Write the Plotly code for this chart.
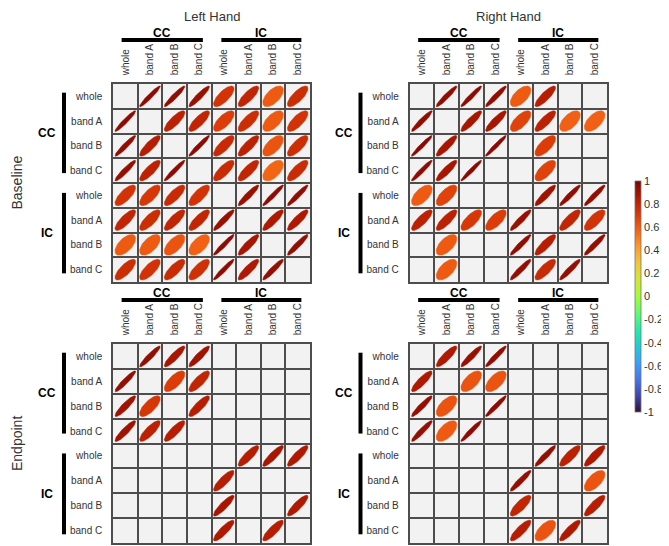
import numpy as np
import plotly.graph_objects as go
from plotly.colors import sample_colorscale

W, H = 669, 546
OFF = 8  # page body margin of the html page

# ---------------- data ----------------
measures = ["whole", "band A", "band B", "band C"]
groups = ["CC", "IC"]
tick_labels = measures * 2
hands = ["Left Hand", "Right Hand"]
phases = ["Baseline", "Endpoint"]
N = None

left_baseline = [
    [N,   .95, .94, .92, .74, .80, .60, .76],
    [.95, N,   .82, .80, .70, .76, .60, .74],
    [.94, .84, N,   .95, .78, .82, .62, .76],
    [.93, .82, .95, N,   .77, .80, .57, .77],
    [.74, .72, .78, .74, N,   .92, .95, .94],
    [.80, .76, .80, .80, .92, N,   .86, .86],
    [.60, .60, .62, .58, .95, .88, N,   .93],
    [.76, .74, .77, .75, .95, .86, .93, N],
]
right_baseline = [
    [N,   .94, .95, .94, .60, .84, N,   N],
    [.94, N,   .88, .88, .68, .82, .58, .58],
    [.96, .88, N,   .96, N,   .70, N,   N],
    [.95, .88, .96, N,   N,   .68, N,   N],
    [.60, .68, N,   N,   N,   .90, .94, .94],
    [.82, .82, .72, .70, .92, N,   .80, .74],
    [N,   .60, N,   N,   .94, .84, N,   .93],
    [N,   .60, N,   N,   .93, .78, .93, N],
]
left_endpoint = [
    [N,   .93, .88, .90, N,   N,   N,   N],
    [.93, N,   .70, .80, N,   N,   N,   N],
    [.90, .72, N,   .84, N,   N,   N,   N],
    [.90, .82, .84, N,   N,   N,   N,   N],
    [N,   N,   N,   N,   N,   .84, .88, .86],
    [N,   N,   N,   N,   .84, N,   N,   N],
    [N,   N,   N,   N,   .88, N,   N,   .86],
    [N,   N,   N,   N,   .86, N,   .84, N],
]
right_endpoint = [
    [N,   .86, .92, .94, N,   N,   N,   N],
    [.86, N,   .62, .62, N,   N,   N,   N],
    [.93, .62, N,   .95, N,   N,   N,   N],
    [.93, .60, .95, N,   N,   N,   N,   N],
    [N,   N,   N,   N,   N,   .93, .82, .86],
    [N,   N,   N,   N,   .93, N,   N,   .62],
    [N,   N,   N,   N,   .80, N,   N,   .84],
    [N,   N,   N,   N,   .84, .62, .86, N],
]

panels = [left_baseline, right_baseline, left_endpoint, right_endpoint]

# ---------------- layout geometry (screen pixels) ----------------
grid_left = [113, 409.5]
grid_right = [310, 607]
grid_top = [84, 344]
grid_bottom = [282, 543]

def px_x(p):
    return (p - OFF) / W

def px_y(p):
    return 1 - (p - OFF) / H

fig = go.Figure()
S = 0.42  # ellipse half-extent in cell units
t = np.linspace(0, 2 * np.pi, 80)
FONT = "Arial, Liberation Sans, sans-serif"

annotations = []
shapes = []

for k, mat in enumerate(panels):
    row_i, col_i = divmod(k, 2)
    ax = "" if k == 0 else str(k + 1)
    xa, ya = "x" + ax, "y" + ax
    gl, gr = grid_left[col_i], grid_right[col_i]
    gt, gb = grid_top[row_i], grid_bottom[row_i]
    cw = (gr - gl) / 8
    ch = (gb - gt) / 8

    for i in range(8):
        for j in range(8):
            r = mat[i][j]
            if r is None:
                continue
            d = np.arccos(r)
            ex = j + 0.5 + S * np.cos(t + d / 2)
            ey = i + 0.5 - S * np.cos(t - d / 2)
            col = sample_colorscale("Turbo", [(r + 1) / 2])[0]
            fig.add_trace(go.Scatter(
                x=ex, y=ey, mode="lines", fill="toself", fillcolor=col,
                line=dict(color=col, width=0.5), xaxis=xa, yaxis=ya,
                hoverinfo="skip", showlegend=False))

    axis_common = dict(
        range=[0, 8], tickmode="array", tickvals=[v + 0.5 for v in range(8)],
        ticktext=tick_labels, showgrid=False, zeroline=False,
        showline=True, mirror=True, linecolor="#4d4d4d", linewidth=1.5,
        ticks="", tickfont=dict(family=FONT, size=10, color="#333"),
        minor=dict(tickmode="array", tickvals=list(range(9)), showgrid=True,
                   gridcolor="#4d4d4d", gridwidth=1.5, ticks=""),
        fixedrange=True,
    )
    fig.layout["xaxis" + ax] = dict(
        axis_common, domain=[px_x(gl), px_x(gr)], anchor=ya, side="top",
        tickangle=-90, ticklabelstandoff=5)
    y_common = dict(axis_common)
    y_common["range"] = [8, 0]
    fig.layout["yaxis" + ax] = dict(
        y_common, domain=[px_y(gb), px_y(gt)], anchor=xa, side="left",
        ticklabelstandoff=7)

    # column group headers
    for g, (c0, c1) in enumerate([(0.35, 3.65), (4.4, 7.65)]):
        x0, x1 = gl + c0 * cw, gl + c1 * cw
        shapes.append(dict(type="line", xref="paper", yref="paper",
                           x0=px_x(x0), x1=px_x(x1), y0=px_y(gt - 44), y1=px_y(gt - 44),
                           line=dict(color="black", width=4)))
        annotations.append(dict(text="<b>%s</b>" % groups[g], xref="paper", yref="paper",
                                x=px_x((x0 + x1) / 2), y=px_y(gt - 51), showarrow=False,
                                font=dict(family=FONT, size=12, color="black"),
                                xanchor="center", yanchor="middle"))
    # row group headers
    for g, (c0, c1) in enumerate([(0.35, 3.6), (4.4, 7.65)]):
        y0, y1 = gt + c0 * ch, gt + c1 * ch
        bx = gl - 49
        shapes.append(dict(type="line", xref="paper", yref="paper",
                           x0=px_x(bx), x1=px_x(bx), y0=px_y(y0), y1=px_y(y1),
                           line=dict(color="black", width=4)))
        annotations.append(dict(text="<b>%s</b>" % groups[g], xref="paper", yref="paper",
                                x=px_x(gl - 66), y=px_y((y0 + y1) / 2), showarrow=False,
                                font=dict(family=FONT, size=12, color="black"),
                                xanchor="center", yanchor="middle"))

# hand titles
for c, name in enumerate(hands):
    annotations.append(dict(text=name, xref="paper", yref="paper",
                            x=px_x((grid_left[c] + grid_right[c]) / 2), y=1,
                            showarrow=False, font=dict(family=FONT, size=13, color="#333"),
                            xanchor="center", yanchor="top", borderpad=0))
# phase titles
for rI, name in enumerate(phases):
    annotations.append(dict(text=name, xref="paper", yref="paper",
                            x=px_x(16.5), y=px_y((grid_top[rI] + grid_bottom[rI]) / 2),
                            showarrow=False, textangle=-90,
                            font=dict(family=FONT, size=14, color="#333"),
                            xanchor="center", yanchor="middle"))

# colorbar carrier
cb_vals = [-1, -0.8, -0.6, -0.4, -0.2, 0, 0.2, 0.4, 0.6, 0.8, 1]
cb_text = ["-1", "-0.8", "-0.6", "-0.4", "-0.2", "0", "0.2", "0.4", "0.6", "0.8", "1"]
fig.add_trace(go.Scatter(
    x=[0.5], y=[0.5], mode="markers", xaxis="x", yaxis="y", hoverinfo="skip",
    showlegend=False,
    marker=dict(size=0.1, color=[0], cmin=-1, cmax=1, colorscale="Turbo",
                showscale=True,
                colorbar=dict(x=px_x(634.5), xanchor="left", xpad=0, ypad=0,
                              y=px_y(296.5), yanchor="middle",
                              len=231, lenmode="pixels", thickness=6,
                              outlinewidth=0.8, outlinecolor="#777",
                              tickmode="array", tickvals=cb_vals, ticktext=cb_text,
                              ticks="",
                              tickfont=dict(family=FONT, size=11, color="#333")))))

fig.update_layout(
    width=W, height=H, margin=dict(l=0, r=0, t=0, b=0),
    plot_bgcolor="#f2f2f2", paper_bgcolor="white",
    annotations=annotations, shapes=shapes, showlegend=False,
)

fig.write_html("out.html")
